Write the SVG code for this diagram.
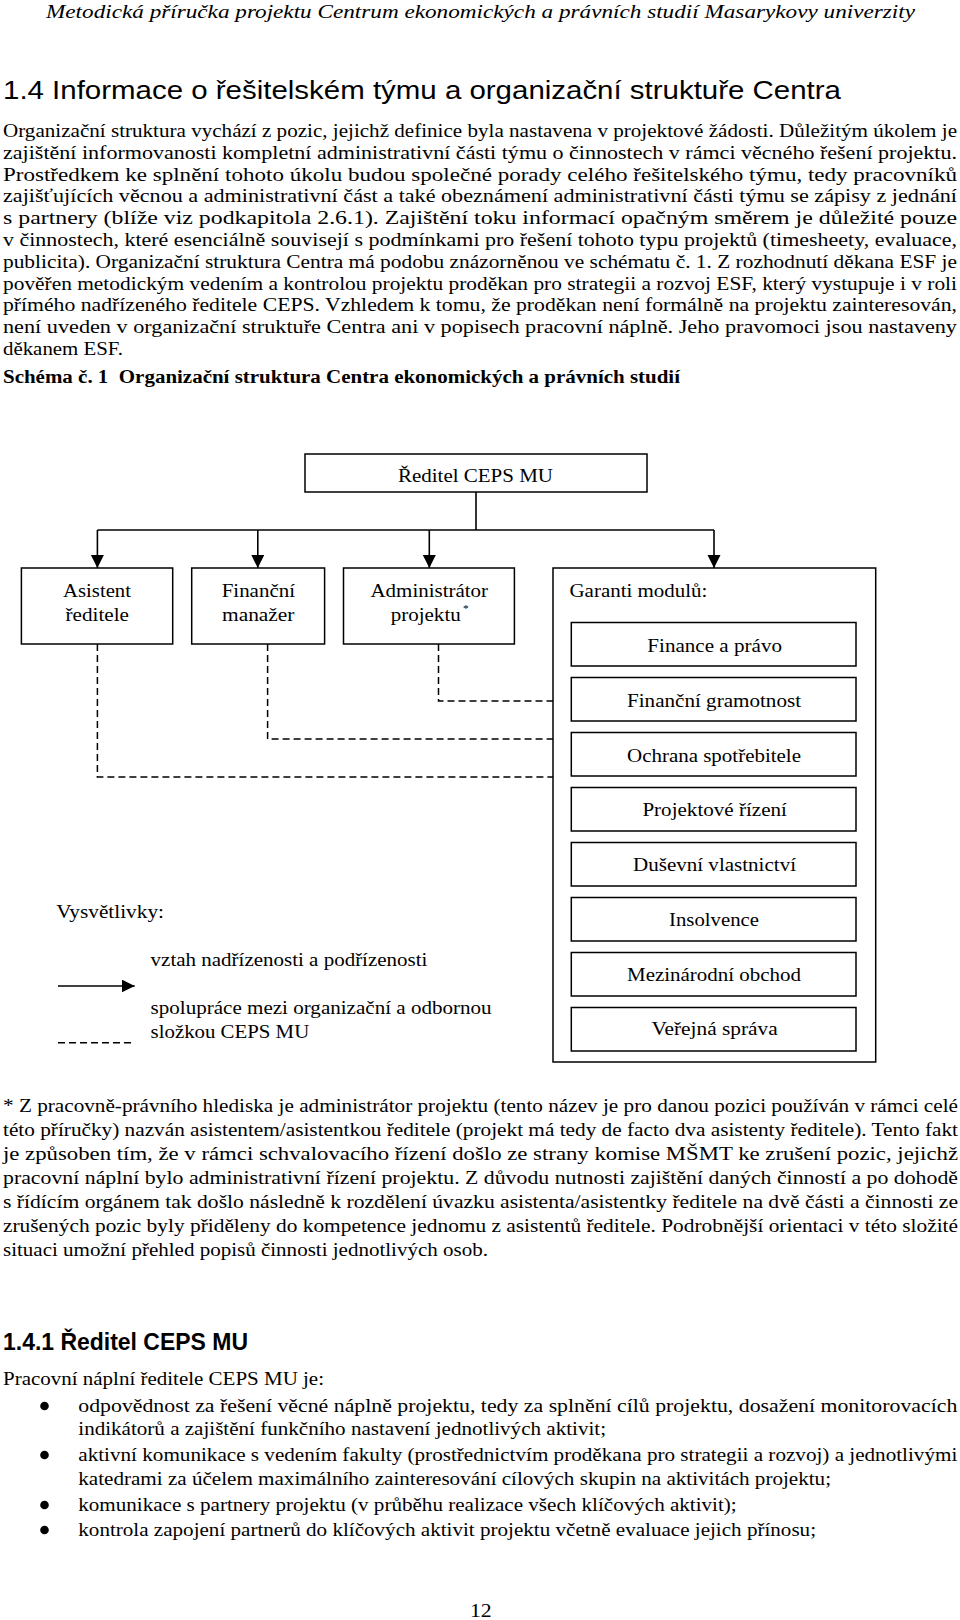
<svg xmlns="http://www.w3.org/2000/svg" width="960" height="1620" viewBox="0 0 960 1620">
<style>
.t{font-family:"Liberation Serif","Times New Roman",serif;font-size:18.5px;fill:#000}
.i{font-style:italic}
.b{font-weight:bold}
.s{font-family:"Liberation Sans",Arial,sans-serif;fill:#000}
.box{fill:#fff;stroke:#000;stroke-width:1.5}
.solid{fill:none;stroke:#000;stroke-width:1.6}
.dash{fill:none;stroke:#000;stroke-width:1.5;stroke-dasharray:7 4}
</style>
<defs>
<marker id="arr" markerUnits="userSpaceOnUse" markerWidth="14" markerHeight="14" refX="13" refY="6.5" orient="auto">
<path d="M0,0 L13,6.5 L0,13 z" fill="#000"/>
</marker>
</defs>
<rect x="0" y="0" width="960" height="1620" fill="#fff"/>

<g id="page-header">
<text class="t i" x="46" y="18" textLength="869" lengthAdjust="spacingAndGlyphs">Metodická příručka projektu Centrum ekonomických a právních studií Masarykovy univerzity</text>
<text class="s" x="3" y="99" font-size="25" textLength="838" lengthAdjust="spacingAndGlyphs">1.4 Informace o řešitelském týmu a organizační struktuře Centra</text>
</g>

<g id="intro-text">
<text class="t" x="3" y="137" textLength="954" lengthAdjust="spacingAndGlyphs">Organizační struktura vychází z pozic, jejichž definice byla nastavena v projektové žádosti. Důležitým úkolem je</text>
<text class="t" x="3" y="158.8" textLength="954" lengthAdjust="spacingAndGlyphs">zajištění informovanosti kompletní administrativní části týmu o činnostech v rámci věcného řešení projektu.</text>
<text class="t" x="3" y="180.6" textLength="954" lengthAdjust="spacingAndGlyphs">Prostředkem ke splnění tohoto úkolu budou společné porady celého řešitelského týmu, tedy pracovníků</text>
<text class="t" x="3" y="202.4" textLength="954" lengthAdjust="spacingAndGlyphs">zajišťujících věcnou a administrativní část a také obeznámení administrativní části týmu se zápisy z jednání</text>
<text class="t" x="3" y="224.2" textLength="954" lengthAdjust="spacingAndGlyphs">s partnery (blíže viz podkapitola 2.6.1). Zajištění toku informací opačným směrem je důležité pouze</text>
<text class="t" x="3" y="246" textLength="954" lengthAdjust="spacingAndGlyphs">v činnostech, které esenciálně souvisejí s podmínkami pro řešení tohoto typu projektů (timesheety, evaluace,</text>
<text class="t" x="3" y="267.8" textLength="954" lengthAdjust="spacingAndGlyphs">publicita). Organizační struktura Centra má podobu znázorněnou ve schématu č. 1. Z rozhodnutí děkana ESF je</text>
<text class="t" x="3" y="289.6" textLength="954" lengthAdjust="spacingAndGlyphs">pověřen metodickým vedením a kontrolou projektu proděkan pro strategii a rozvoj ESF, který vystupuje i v roli</text>
<text class="t" x="3" y="311.4" textLength="954" lengthAdjust="spacingAndGlyphs">přímého nadřízeného ředitele CEPS. Vzhledem k tomu, že proděkan není formálně na projektu zainteresován,</text>
<text class="t" x="3" y="333.2" textLength="954" lengthAdjust="spacingAndGlyphs">není uveden v organizační struktuře Centra ani v popisech pracovní náplně. Jeho pravomoci jsou nastaveny</text>
<text class="t" x="3" y="355" textLength="120" lengthAdjust="spacingAndGlyphs">děkanem ESF.</text>
<text class="t b" x="3" y="383" textLength="677" lengthAdjust="spacingAndGlyphs">Schéma č. 1&#160; Organizační struktura Centra ekonomických a právních studií</text>
</g>

<g id="connectors">
<path class="solid" d="M476,492 V530"/>
<path class="solid" d="M97.4,530 H714"/>
<path class="solid" d="M97.4,530 V568" marker-end="url(#arr)"/>
<path class="solid" d="M257.8,530 V568" marker-end="url(#arr)"/>
<path class="solid" d="M429.3,530 V568" marker-end="url(#arr)"/>
<path class="solid" d="M714,530 V568" marker-end="url(#arr)"/>
<path class="dash" d="M438.5,644 V701 H553"/>
<path class="dash" d="M267.6,644 V739 H553"/>
<path class="dash" d="M97.4,644 V777 H553"/>
</g>

<g id="node-reditel">
<rect class="box" x="305" y="454" width="342" height="38"/>
<text class="t" x="398" y="481.7" textLength="155" lengthAdjust="spacingAndGlyphs">Ředitel CEPS MU</text>
</g>
<g id="node-asistent">
<rect class="box" x="21.4" y="568" width="151.3" height="76"/>
<text class="t" x="63" y="596.7" textLength="68" lengthAdjust="spacingAndGlyphs">Asistent</text>
<text class="t" x="65.5" y="621" textLength="63.5" lengthAdjust="spacingAndGlyphs">ředitele</text>
</g>
<g id="node-financni-manazer">
<rect class="box" x="191.7" y="568" width="132.9" height="76"/>
<text class="t" x="221.7" y="596.7" textLength="73.3" lengthAdjust="spacingAndGlyphs">Finanční</text>
<text class="t" x="222" y="621" textLength="72.5" lengthAdjust="spacingAndGlyphs">manažer</text>
</g>
<g id="node-administrator">
<rect class="box" x="343.5" y="568" width="170.9" height="76"/>
<text class="t" x="370.5" y="596.7" textLength="117.5" lengthAdjust="spacingAndGlyphs">Administrátor</text>
<text class="t" x="390.7" y="621" textLength="78" lengthAdjust="spacingAndGlyphs">projektu<tspan dx="2" dy="-9" font-size="10">*</tspan></text>
</g>
<g id="node-garanti">
<rect class="box" x="553" y="568" width="322.7" height="494"/>
<text class="t" x="569.5" y="596.7" textLength="137.8" lengthAdjust="spacingAndGlyphs">Garanti modulů:</text>
</g>
<g id="node-finance-pravo">
<rect class="box" x="571.3" y="622.5" width="284.7" height="43.5"/>
<text class="t" x="647.3" y="651.7" textLength="134.7" lengthAdjust="spacingAndGlyphs">Finance a právo</text>
</g>
<g id="node-financni-gramotnost">
<rect class="box" x="571.3" y="677.5" width="284.7" height="43.5"/>
<text class="t" x="627" y="706.7" textLength="174" lengthAdjust="spacingAndGlyphs">Finanční gramotnost</text>
</g>
<g id="node-ochrana">
<rect class="box" x="571.3" y="732.5" width="284.7" height="43.5"/>
<text class="t" x="627" y="761.5" textLength="174" lengthAdjust="spacingAndGlyphs">Ochrana spotřebitele</text>
</g>
<g id="node-projektove-rizeni">
<rect class="box" x="571.3" y="787.5" width="284.7" height="43.5"/>
<text class="t" x="642.4" y="816" textLength="144.5" lengthAdjust="spacingAndGlyphs">Projektové řízení</text>
</g>
<g id="node-dusevni">
<rect class="box" x="571.3" y="842.5" width="284.7" height="43.5"/>
<text class="t" x="633" y="871" textLength="163" lengthAdjust="spacingAndGlyphs">Duševní vlastnictví</text>
</g>
<g id="node-insolvence">
<rect class="box" x="571.3" y="897.5" width="284.7" height="43.5"/>
<text class="t" x="669" y="926" textLength="90" lengthAdjust="spacingAndGlyphs">Insolvence</text>
</g>
<g id="node-mezinarodni">
<rect class="box" x="571.3" y="952.5" width="284.7" height="43.5"/>
<text class="t" x="627" y="981" textLength="174" lengthAdjust="spacingAndGlyphs">Mezinárodní obchod</text>
</g>
<g id="node-verejna">
<rect class="box" x="571.3" y="1007.5" width="284.7" height="43.5"/>
<text class="t" x="651.5" y="1035" textLength="126.2" lengthAdjust="spacingAndGlyphs">Veřejná správa</text>
</g>

<g id="legend">
<text class="t" x="56.3" y="918.3" textLength="107.7" lengthAdjust="spacingAndGlyphs">Vysvětlivky:</text>
<text class="t" x="150.6" y="966" textLength="276.8" lengthAdjust="spacingAndGlyphs">vztah nadřízenosti a podřízenosti</text>
<path class="solid" d="M58,986 H134.7" marker-end="url(#arr)"/>
<text class="t" x="150.6" y="1014.3" textLength="341" lengthAdjust="spacingAndGlyphs">spolupráce mezi organizační a odbornou</text>
<text class="t" x="150.6" y="1038.3" textLength="158.6" lengthAdjust="spacingAndGlyphs">složkou CEPS MU</text>
<path class="dash" d="M58,1042.7 H131"/>
</g>

<g id="footnote">
<text class="t" x="3" y="1111.5" textLength="955" lengthAdjust="spacingAndGlyphs">* Z pracovně-právního hlediska je administrátor projektu (tento název je pro danou pozici používán v rámci celé</text>
<text class="t" x="3" y="1135.5" textLength="955" lengthAdjust="spacingAndGlyphs">této příručky) nazván asistentem/asistentkou ředitele (projekt má tedy de facto dva asistenty ředitele). Tento fakt</text>
<text class="t" x="3" y="1159.5" textLength="955" lengthAdjust="spacingAndGlyphs">je způsoben tím, že v rámci schvalovacího řízení došlo ze strany komise MŠMT ke zrušení pozic, jejichž</text>
<text class="t" x="3" y="1183.5" textLength="955" lengthAdjust="spacingAndGlyphs">pracovní náplní bylo administrativní řízení projektu. Z důvodu nutnosti zajištění daných činností a po dohodě</text>
<text class="t" x="3" y="1207.5" textLength="955" lengthAdjust="spacingAndGlyphs">s řídícím orgánem tak došlo následně k rozdělení úvazku asistenta/asistentky ředitele na dvě části a činnosti ze</text>
<text class="t" x="3" y="1231.5" textLength="955" lengthAdjust="spacingAndGlyphs">zrušených pozic byly přiděleny do kompetence jednomu z asistentů ředitele. Podrobnější orientaci v této složité</text>
<text class="t" x="3" y="1255.5" textLength="485" lengthAdjust="spacingAndGlyphs">situaci umožní přehled popisů činnosti jednotlivých osob.</text>
</g>

<g id="section-141">
<text class="s b" x="3" y="1350" font-size="23" textLength="245" lengthAdjust="spacingAndGlyphs">1.4.1 Ředitel CEPS MU</text>
<text class="t" x="3" y="1385" textLength="321" lengthAdjust="spacingAndGlyphs">Pracovní náplní ředitele CEPS MU je:</text>
<circle cx="44.5" cy="1406" r="4.3" fill="#000"/>
<text class="t" x="78.3" y="1412" textLength="879" lengthAdjust="spacingAndGlyphs">odpovědnost za řešení věcné náplně projektu, tedy za splnění cílů projektu, dosažení monitorovacích</text>
<text class="t" x="78.3" y="1435" textLength="527.7" lengthAdjust="spacingAndGlyphs">indikátorů a zajištění funkčního nastavení jednotlivých aktivit;</text>
<circle cx="44.5" cy="1455" r="4.3" fill="#000"/>
<text class="t" x="78.3" y="1461" textLength="879" lengthAdjust="spacingAndGlyphs">aktivní komunikace s vedením fakulty (prostřednictvím proděkana pro strategii a rozvoj) a jednotlivými</text>
<text class="t" x="78.3" y="1484.5" textLength="752.7" lengthAdjust="spacingAndGlyphs">katedrami za účelem maximálního zainteresování cílových skupin na aktivitách projektu;</text>
<circle cx="44.5" cy="1505" r="4.3" fill="#000"/>
<text class="t" x="78.3" y="1511" textLength="658.4" lengthAdjust="spacingAndGlyphs">komunikace s partnery projektu (v průběhu realizace všech klíčových aktivit);</text>
<circle cx="44.5" cy="1530" r="4.3" fill="#000"/>
<text class="t" x="78.3" y="1536" textLength="737.7" lengthAdjust="spacingAndGlyphs">kontrola zapojení partnerů do klíčových aktivit projektu včetně evaluace jejich přínosu;</text>
</g>

<g id="page-number">
<text class="t" x="470" y="1617" textLength="21.7" lengthAdjust="spacingAndGlyphs">12</text>
</g>
</svg>
